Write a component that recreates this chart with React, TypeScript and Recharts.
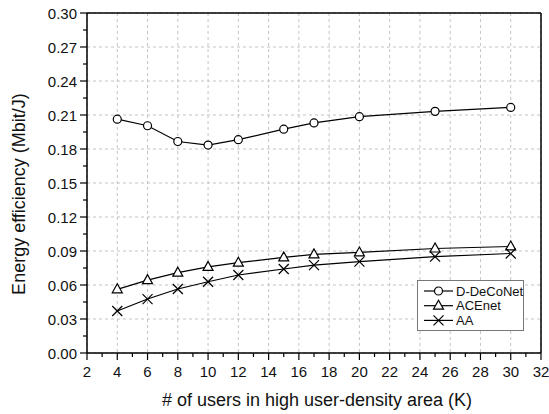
import React from "react";
import {
  LineChart,
  Line,
  XAxis,
  YAxis,
  CartesianGrid,
  ReferenceLine,
  Legend,
} from "recharts";

const kValues = [4, 6, 8, 10, 12, 15, 17, 20, 25, 30];
const dDeCoNet = [0.2063, 0.2005, 0.1866, 0.1835, 0.1882, 0.1975, 0.203, 0.2085, 0.2132, 0.2167];
const acenet = [0.0562, 0.0643, 0.0709, 0.076, 0.0797, 0.0843, 0.087, 0.0887, 0.0922, 0.094];
const aa = [0.0371, 0.0476, 0.0565, 0.0629, 0.0688, 0.0741, 0.0776, 0.0806, 0.085, 0.0878];

const xMajor = [2, 4, 6, 8, 10, 12, 14, 16, 18, 20, 22, 24, 26, 28, 30, 32];
const xAll = [2, 3, 4, 5, 6, 7, 8, 9, 10, 11, 12, 13, 14, 15, 16, 17, 18, 19, 20, 21, 22, 23, 24, 25, 26, 27, 28, 29, 30, 31, 32];
const yMajor = [0, 0.03, 0.06, 0.09, 0.12, 0.15, 0.18, 0.21, 0.24, 0.27, 0.3];
const yAll = [
  0, 0.015, 0.03, 0.045, 0.06, 0.075, 0.09, 0.105, 0.12, 0.135, 0.15, 0.165,
  0.18, 0.195, 0.21, 0.225, 0.24, 0.255, 0.27, 0.285, 0.3,
];

const data = kValues.map((k, i) => ({
  k,
  dDeCoNet: dDeCoNet[i],
  acenet: acenet[i],
  aa: aa[i],
}));

const FONT = "'Liberation Sans', Arial, sans-serif";
const INK = "#000";

const CircleDot = (p: any) => (
  <circle cx={p.cx} cy={p.cy} r={4} fill="#fff" stroke={INK} strokeWidth={1.2} />
);
const TriangleDot = (p: any) => (
  <polygon
    points={`${p.cx},${p.cy - 5.5} ${p.cx - 5},${p.cy + 3.5} ${p.cx + 5},${p.cy + 3.5}`}
    fill="#fff"
    stroke={INK}
    strokeWidth={1.2}
  />
);
const CrossDot = (p: any) => (
  <g stroke={INK} strokeWidth={1.2}>
    <line x1={p.cx - 5} y1={p.cy - 5} x2={p.cx + 5} y2={p.cy + 5} />
    <line x1={p.cx - 5} y1={p.cy + 5} x2={p.cx + 5} y2={p.cy - 5} />
  </g>
);

const XTick = (p: any) => {
  const v = p.payload.value;
  const major = v % 2 === 0;
  return (
    <g>
      <line x1={p.x} y1={p.y} x2={p.x} y2={p.y + (major ? 7 : 4)} stroke={INK} strokeWidth={1.2} />
      {major && (
        <text x={p.x} y={p.y + 18} textAnchor="middle" dominantBaseline="central" fontSize={15} fontFamily={FONT} fill="#111">
          {v}
        </text>
      )}
    </g>
  );
};

const YTick = (p: any) => {
  const v = p.payload.value;
  const major = Math.round(v * 1000) % 30 === 0;
  return (
    <g>
      <line x1={p.x} y1={p.y} x2={p.x - (major ? 7 : 4)} y2={p.y} stroke={INK} strokeWidth={1.2} />
      {major && (
        <text x={p.x - 10} y={p.y} textAnchor="end" dominantBaseline="central" fontSize={15} fontFamily={FONT} fill="#111">
          {v.toFixed(2)}
        </text>
      )}
    </g>
  );
};

const legendItems = [
  { name: "D-DeCoNet", Dot: CircleDot },
  { name: "ACEnet", Dot: TriangleDot },
  { name: "AA", Dot: CrossDot },
];

const LegendBox = () => (
  <svg width={108} height={52} style={{ display: "block" }}>
    <rect x={0.5} y={0.5} width={106} height={50} fill="#fff" stroke="#777" />
    {legendItems.map((it, i) => {
      const cy = 11 + i * 14.7;
      return (
        <g key={it.name}>
          <line x1={7} y1={cy} x2={36} y2={cy} stroke={INK} strokeWidth={1.2} />
          <it.Dot cx={21.5} cy={cy} />
          <text x={39} y={cy} dominantBaseline="central" fontSize={13} fontFamily={FONT} fill="#111">
            {it.name}
          </text>
        </g>
      );
    })}
  </svg>
);

export default function App() {
  return (
    <div style={{ position: "absolute", left: 0, top: 0, width: 549, height: 414, background: "#fff" }}>
      <LineChart width={549} height={414} data={data} margin={{ top: 13, right: 8, bottom: 0, left: 0 }}>
        <CartesianGrid
          stroke="#c4c4c4"
          strokeDasharray="3 3"
          horizontalValues={yMajor}
          verticalValues={xMajor}
        />
        <XAxis
          dataKey="k"
          type="number"
          domain={[2, 32]}
          ticks={xAll}
          interval={0}
          height={61}
          tickSize={0}
          tickMargin={0}
          tick={<XTick />}
          axisLine={{ stroke: INK, strokeWidth: 1.5 }}
          tickLine={false}
          label={() => (
            <text x={317} y={400} textAnchor="middle" dominantBaseline="central" fontSize={18} fontFamily={FONT} fill="#111">
              # of users in high user-density area (K)
            </text>
          )}
        />
        <YAxis
          type="number"
          domain={[0, 0.3]}
          ticks={yAll}
          interval={0}
          width={87}
          tickSize={0}
          tickMargin={0}
          tick={<YTick />}
          axisLine={{ stroke: INK, strokeWidth: 1.5 }}
          tickLine={false}
          label={() => (
            <text x={19} y={194} transform="rotate(-90 19 194)" textAnchor="middle" dominantBaseline="central" fontSize={18} fontFamily={FONT} fill="#111">
              Energy efficiency (Mbit/J)
            </text>
          )}
        />
        <ReferenceLine y={0.3} stroke={INK} strokeWidth={1.5} />
        <ReferenceLine x={32} stroke={INK} strokeWidth={1.5} />
        <Legend
          layout="vertical"
          align="center"
          verticalAlign="middle"
          content={() => <LegendBox />}
          wrapperStyle={{ position: "absolute", left: 417, top: 280, width: 108, height: 52 }}
        />
        <Line dataKey="dDeCoNet" name="D-DeCoNet" stroke={INK} strokeWidth={1.2} dot={<CircleDot />} isAnimationActive={false} />
        <Line dataKey="acenet" name="ACEnet" stroke={INK} strokeWidth={1.2} dot={<TriangleDot />} isAnimationActive={false} />
        <Line dataKey="aa" name="AA" stroke={INK} strokeWidth={1.2} dot={<CrossDot />} isAnimationActive={false} />
      </LineChart>
    </div>
  );
}
